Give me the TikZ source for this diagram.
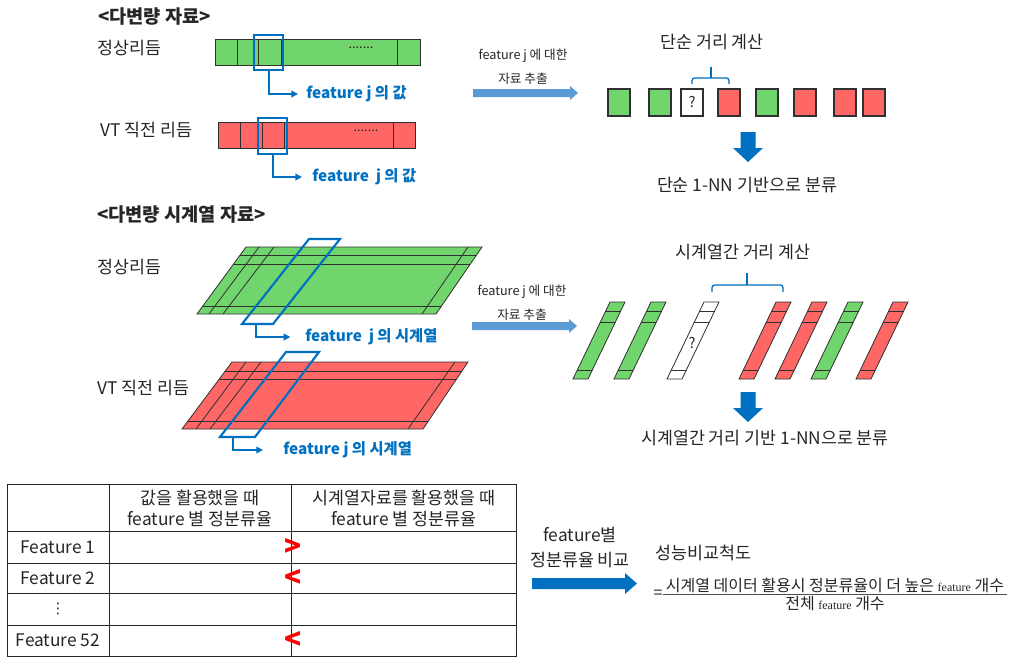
\documentclass[tikz,border=0pt]{standalone}
\usepackage{fontspec}
\setmainfont{Noto Sans CJK KR}
\newfontfamily\serifft{Liberation Serif}
\newfontfamily\symft{DejaVu Sans}
\usetikzlibrary{arrows.meta}
\definecolor{gfill}{HTML}{70D56C}
\definecolor{rfill}{HTML}{FF6666}
\definecolor{dblue}{HTML}{0070C0}
\definecolor{lblue}{HTML}{5B9BD5}
\definecolor{txt}{HTML}{262626}
\definecolor{edge}{HTML}{303030}
\definecolor{rsign}{HTML}{FF0000}
\newcommand\DArrow[4]{\fill[dblue] (#1-7.5,#2) -- (#1+7.5,#2) -- (#1+7.5,#3) -- (#1+15,#3) -- (#1,#4) -- (#1-15,#3) -- (#1-7.5,#3) -- cycle;}
% x1, x2(head start), xtip, yc, half body, half head, colour
\newcommand\RArrow[7]{\fill[#7] (#1,#4-#5) -- (#2,#4-#5) -- (#2,#4-#6) -- (#3,#4) -- (#2,#4+#6) -- (#2,#4+#5) -- (#1,#4+#5) -- cycle;}
\tikzset{
 lab/.style={font=\fontsize{13}{15}\selectfont, text=txt, inner sep=0pt},
 flab/.style={font=\fontsize{12}{14}\selectfont, text=txt, inner sep=0pt},
 hdr/.style={font=\fontsize{14}{16}\selectfont\bfseries, text=txt, inner sep=0pt, anchor=west},
 smalltxt/.style={font=\fontsize{9.5}{11}\selectfont, text=txt, inner sep=0pt},
 bluelab/.style={font=\fontsize{11.5}{13}\selectfont\bfseries, text=dblue, anchor=west, inner sep=0pt},
 cell/.style={draw=edge, line width=0.6pt},
 selbox/.style={draw=dblue, line width=1.6pt, line join=miter},
 conn/.style={draw=dblue, line width=1.3pt, -{Triangle[length=5pt,width=5pt]}},
 bracepath/.style={draw=dblue, line width=1pt, rounded corners=2pt},
 tline/.style={draw=black!85, line width=0.7pt},
 sign/.style={font=\fontsize{21}{21}\selectfont\bfseries, text=rsign, inner sep=0pt},
}
\begin{document}
\begin{tikzpicture}[x=0.75pt,y=-0.75pt]
\useasboundingbox (0,0) rectangle (1009,657);
\fill[white] (0,0) rectangle (1009,657);

% ---------- top section ----------
\node[hdr] (h1) at (98,17) {<다변량 자료>};
\node[lab, anchor=west] (n1) at (97,48) {정상리듬};
\node[lab, anchor=west] (v1) at (100,130) {VT 직전 리듬};

\draw[cell, fill=gfill] (215,39) rectangle (420,65);
\foreach \x in {237,258,281,397} \draw[cell] (\x,39) -- (\x,65);
\node[smalltxt] (d1) at (361,48) {.......};
\draw[cell, fill=rfill] (218,122) rectangle (415,148);
\foreach \x in {240,262,284,393} \draw[cell] (\x,122) -- (\x,148);
\node[smalltxt] (d2) at (366,131) {.......};

\draw[selbox] (254,35) rectangle (283,70);
\draw[selbox] (258,118) rectangle (287,154);
\coordinate (gb1) at (269,70);
\coordinate (rb1) at (273,154);
\node[bluelab] (glab1) at (306,94) {feature j 의 값};
\node[bluelab] (rlab1) at (312,177) {feature\ \ j 의 값};
\draw[conn, shorten >=6pt] (gb1) |- (glab1.west);
\draw[conn, shorten >=7.5pt] (rb1) |- (rlab1.west);

\node[smalltxt] (e1) at (523,56) {feature j 에 대한};
\node[smalltxt] (e2) at (523,79) {자료 추출};
\RArrow{473}{570}{578}{93}{4}{7}{lblue}

\node[lab] (c1) at (712,42) {단순 거리 계산};
\draw[bracepath] (692,84) -- (692,78) -- (729,78) -- (729,84);
\draw[dblue, line width=1pt] (711,78) -- (711,67);
\foreach \x/\c in {608/gfill,649/gfill,681/white,718/rfill,756/gfill,794/rfill,834/rfill,863/rfill}
  \draw[edge, line width=0.9pt, fill=\c] (\x,89) rectangle ++(22,27);
\node[smalltxt, font=\fontsize{11}{12}\selectfont] (q1) at (692,102.5) {?};
\DArrow{748}{132}{148}{162}
\node[lab] (r1) at (747,185) {단순 1-NN 기반으로 분류};

% ---------- middle section ----------
\node[hdr] (h2) at (97,215) {<다변량 시계열 자료>};
\node[lab, anchor=west] (n2) at (97,267) {정상리듬};
\node[lab, anchor=west] (v2) at (97,388) {VT 직전 리듬};

% green plate
\fill[gfill] (246,247) -- (482,247) -- (436,314) -- (197,314) -- cycle;
\begin{scope}
 \clip (246,247) -- (482,247) -- (436,314) -- (197,314) -- cycle;
 \foreach \y in {255,264,306} \draw[cell] (150,\y) -- (520,\y);
\end{scope}
\draw[cell] (259,247) -- (209,314);
\draw[cell] (274,247) -- (223,314);
\draw[cell] (468,247) -- (422,314);
\draw[cell] (246,247) -- (482,247) -- (436,314) -- (197,314) -- cycle;

% red plate
\fill[rfill] (232,362) -- (468,362) -- (423,429) -- (182,429) -- cycle;
\begin{scope}
 \clip (232,362) -- (468,362) -- (423,429) -- (182,429) -- cycle;
 \foreach \y in {371,379,421} \draw[cell] (150,\y) -- (520,\y);
\end{scope}
\draw[cell] (246,362) -- (196,429);
\draw[cell] (261,362) -- (210,429);
\draw[cell] (455,362) -- (408,429);
\draw[cell] (232,362) -- (468,362) -- (423,429) -- (182,429) -- cycle;

% selection boxes
\draw[selbox] (309,239) -- (340,239) -- (273,324) -- (242,324) -- cycle;
\draw[selbox] (286,352) -- (319,352) -- (255,437) -- (220,437) -- cycle;
\coordinate (gb2) at (256,324);
\coordinate (rb2) at (233,437);
\node[bluelab] (glab2) at (305,337) {feature\ \ j 의 시계열};
\node[bluelab] (rlab2) at (283,450) {feature j 의 시계열};
\draw[conn, shorten >=11pt] (gb2) |- (glab2.west);
\draw[conn, shorten >=15pt] (rb2) |- (rlab2.west);

\node[smalltxt] (e3) at (522,292) {feature j 에 대한};
\node[smalltxt] (e4) at (522,315) {자료 추출};
\RArrow{472}{569}{577}{326}{4}{7}{lblue}

\node[lab] (c2) at (743,252) {시계열간 거리 계산};
\draw[bracepath] (712,292) -- (712,285) -- (783,285) -- (783,292);
\draw[dblue, line width=1pt] (747,285) -- (747,273);

\foreach \bx/\c in {573/gfill,614/gfill,667/white,739/rfill,775/rfill,811/gfill,856/rfill} {
  \fill[\c] (\bx,379) -- ++(15,0) -- ++(37,-77) -- ++(-15,0) -- cycle;
  \begin{scope}
    \clip (\bx,379) -- ++(15,0) -- ++(37,-77) -- ++(-15,0) -- cycle;
    \foreach \y in {311,322,370} \draw[cell] (\bx-10,\y) -- (\bx+70,\y);
  \end{scope}
  \draw[cell] (\bx,379) -- ++(15,0) -- ++(37,-77) -- ++(-15,0) -- cycle;
}
\node[smalltxt, font=\fontsize{11}{12}\selectfont] (q2) at (692,343) {?};
\DArrow{748}{392}{408}{422}
\node[lab] (r2) at (765,438) {시계열간 거리 기반 1-NN으로 분류};

% ---------- table ----------
\draw[tline] (7,484) rectangle (516,656);
\foreach \x in {109,291} \draw[tline] (\x,484) -- (\x,656);
\foreach \y in {531,563,593,625} \draw[tline] (7,\y) -- (516,\y);
\node[lab] (t21) at (200,498) {값을 활용했을 때};
\node[lab] (t22) at (200,519) {feature 별 정분류율};
\node[lab] (t31) at (404,498) {시계열자료를 활용했을 때};
\node[lab] (t32) at (404,519) {feature 별 정분류율};
\node[lab] (f1) at (58,547) {Feature 1};
\node[lab] (f2) at (58,578) {Feature 2};
\node[lab, font=\fontsize{11}{12}\selectfont\symft] (f3) at (58,609) {⋮};
\node[lab] (f52) at (58,640) {Feature 52};
\node[sign] (s1) at (293,547) {>};
\node[sign] (s2) at (293,578) {<};
\node[sign] (s3) at (293,640) {<};

% ---------- comparison ----------
\node[lab] (k1) at (580,535) {feature별};
\node[lab] (k2) at (580,560) {정분류율 비교};
\RArrow{532}{625}{637}{583.5}{5.5}{10.5}{dblue}
\node[lab, anchor=west] (m0) at (655,553) {성능비교척도};
\node[flab] (eq) at (658,594) {=};
\node[flab] (num) at (835,585) {시계열 데이터 활용시 정분류율이 더 높은 {\serifft\fontsize{9}{10}\selectfont feature} 개수};
\node[flab] (den) at (835,603) {전체 {\serifft\fontsize{9}{10}\selectfont feature} 개수};
\draw[black!70, line width=0.7pt] (663,594) -- (1007,594);
\end{tikzpicture}
\end{document}
